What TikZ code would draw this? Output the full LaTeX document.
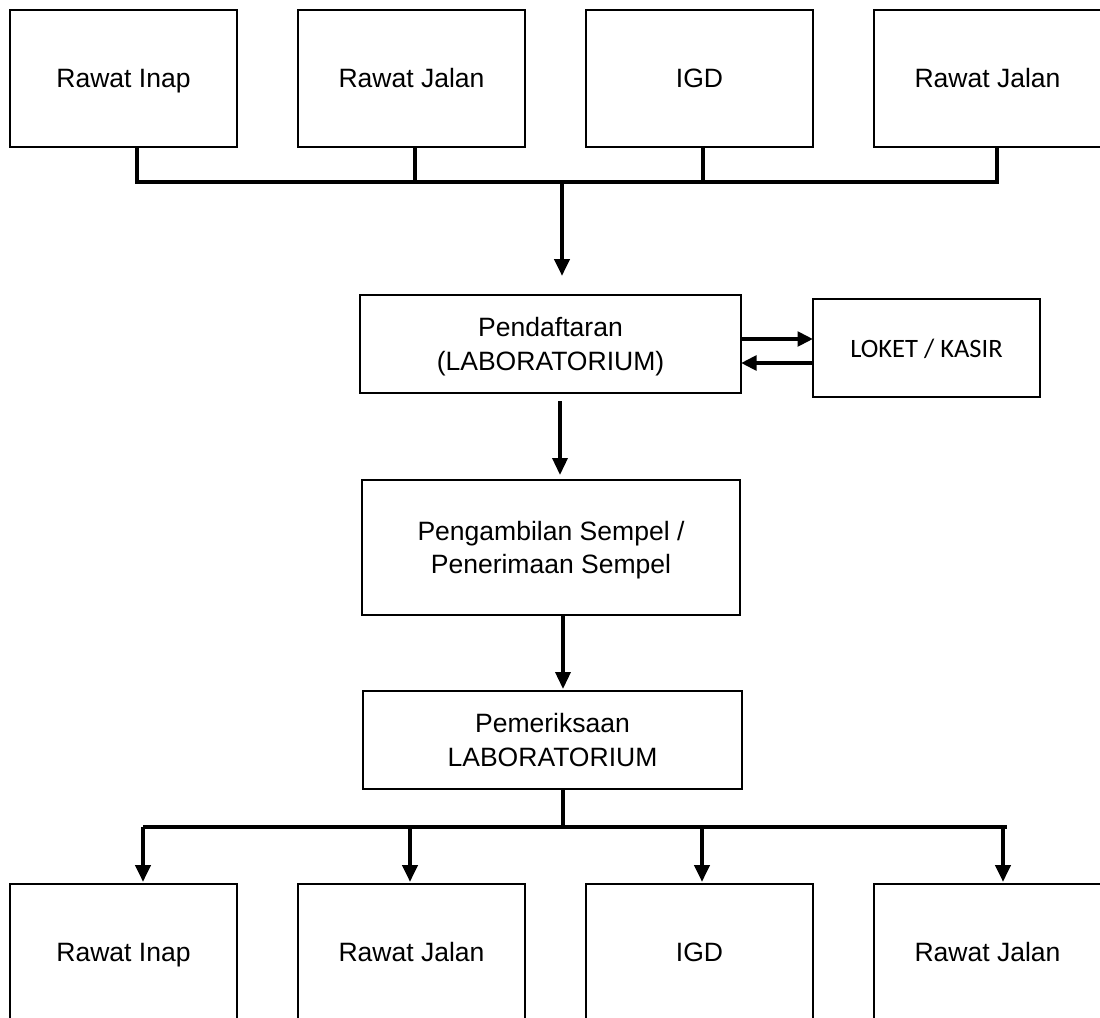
\documentclass[tikz,border=0pt]{standalone}
\usepackage{fontspec}
\setmainfont{Liberation Sans}
\newfontfamily\calibrifont{Carlito}
\usetikzlibrary{arrows.meta}
% strut that centres the capital letters of a line on the node centre
\newcommand\lnstrut{\rule[-3.2pt]{0pt}{17.2pt}}
\begin{document}
\begin{tikzpicture}[x=0.02cm,y=-0.02cm,
  box/.style n args={2}{draw, line width=0.75pt, inner sep=0pt, outer sep=0pt,
    align=center, minimum width=#1*0.02cm, minimum height=#2*0.02cm,
    font=\fontsize{15.1}{18.8}\selectfont},
  conn/.style={line width=0.085cm},
  connthin/.style={line width=0.07cm},
  arr/.style={-{Triangle[width=0.3cm,length=0.34cm]}},
  arrsmall/.style={-{Triangle[width=0.29cm,length=0.31cm]}}]
\useasboundingbox (0,0) rectangle (1100,1018);
\clip (0,0) rectangle (1100,1018);

% upper row of units
\node[box={227}{137}] (t1) at (123.5,78.5) {\lnstrut Rawat Inap};
\node[box={227}{137}] (t2) at (411.5,78.5) {\lnstrut Rawat Jalan};
\node[box={227}{137}] (t3) at (699.5,78.5) {\lnstrut IGD};
\node[box={227}{137}] (t4) at (987.5,78.5) {\lnstrut Rawat Jalan};

% laboratory process
\node[box={381}{98}] (pend) at (550.5,344) {\lnstrut Pendaftaran\\\lnstrut (LABORATORIUM)};
\node[box={227}{98}, font=\calibrifont\fontsize{15.1}{18.8}\selectfont] (loket) at (926.5,348) {\lnstrut LOKET / KASIR};
\node[box={378}{135}] (peng) at (551,547.5) {\lnstrut Pengambilan Sempel /\\\lnstrut Penerimaan Sempel};
\node[box={379}{98}] (pem) at (552.5,740) {\lnstrut Pemeriksaan\\\lnstrut LABORATORIUM};

% lower row of units
\node[box={227}{137}] (b1) at (123.5,952.5) {\lnstrut Rawat Inap};
\node[box={227}{137}] (b2) at (411.5,952.5) {\lnstrut Rawat Jalan};
\node[box={227}{137}] (b3) at (699.5,952.5) {\lnstrut IGD};
\node[box={227}{137}] (b4) at (987.5,952.5) {\lnstrut Rawat Jalan};

% collecting bus under the upper row
\coordinate (j1) at (137,182);
\coordinate (j2) at (415,182);
\coordinate (j3) at (703,182);
\coordinate (j4) at (997,182);
\coordinate (jend) at (999,182);
\coordinate (jm) at (562,182);
\draw[conn] (j1 |- t1.south) -- (j1) -- (jend);
\draw[conn] (j2 |- t2.south) -- (j2);
\draw[conn] (j3 |- t3.south) -- (j3);
\draw[conn] (j4 |- t4.south) -- (j4);
\draw[conn, arr, shorten >=0.38cm] (jm) -- (jm |- pend.north);

% registration <-> cashier
\draw[conn, arrsmall] (pend.east |- 0,339) -- (loket.west |- 0,339);
\draw[conn, arrsmall] (loket.west |- 0,363) -- (pend.east |- 0,363);

% flow down the process
\coordinate (m1) at (560,393);
\draw[connthin, arr, shorten <=0.16cm, shorten >=0.1cm] (m1 |- pend.south) -- (m1 |- peng.north);
\coordinate (m2) at (563,615);
\draw[connthin, arr, shorten >=0.04cm] (m2 |- peng.south) -- (m2 |- pem.north);

% distributing bus above the lower row
\coordinate (k0) at (563,827);
\coordinate (k1) at (143,827);
\coordinate (k2) at (410,827);
\coordinate (k3) at (702,827);
\coordinate (k4) at (1003,827);
\coordinate (kend) at (1007,827);
\draw[connthin] (k0 |- pem.south) -- (k0);
\draw[conn] (k1) -- (kend);
\draw[conn, arr, shorten >=0.04cm] (k1) -- (k1 |- b1.north);
\draw[conn, arr, shorten >=0.04cm] (k2) -- (k2 |- b2.north);
\draw[conn, arr, shorten >=0.04cm] (k3) -- (k3 |- b3.north);
\draw[conn, arr, shorten >=0.04cm] (k4) -- (k4 |- b4.north);
\end{tikzpicture}
\end{document}
